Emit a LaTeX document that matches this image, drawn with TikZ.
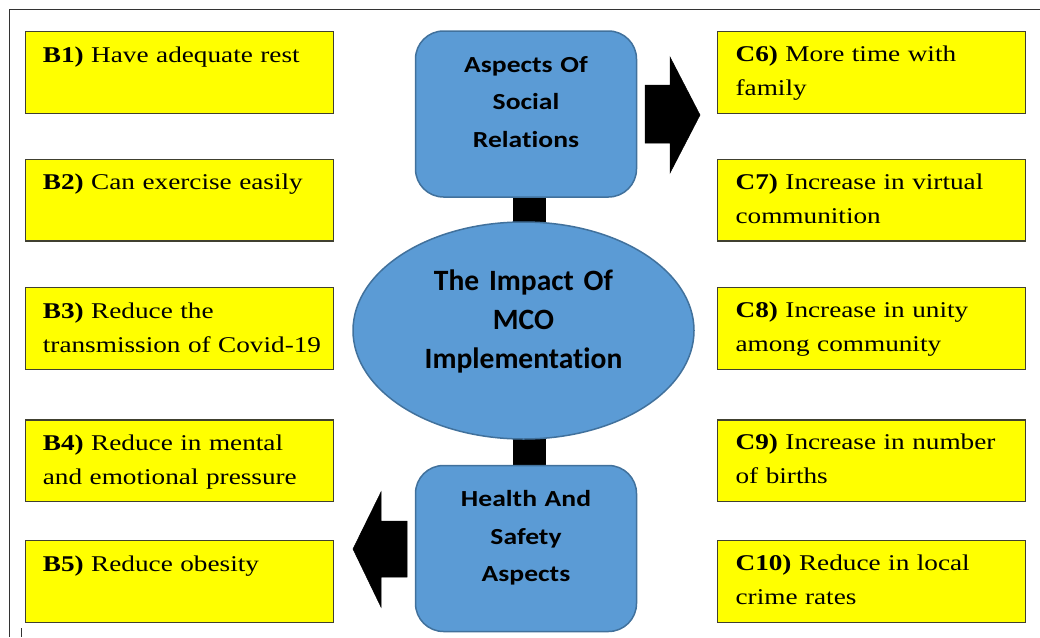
\documentclass[tikz,border=0pt]{standalone}
\usepackage{fontspec}
\usetikzlibrary{shapes.geometric,backgrounds}
\newfontfamily\yfont{Liberation Serif}[FakeStretch=1.21]
\newfontfamily\sfontA{Carlito}[FakeStretch=1.2,Ligatures=NoCommon]
\newfontfamily\efont{Carlito}[Ligatures=NoCommon]
\definecolor{ofblue}{HTML}{5B9BD5}
\definecolor{ofbord}{HTML}{41719C}
\definecolor{ybord}{HTML}{404030}
\definecolor{framec}{HTML}{333333}
\definecolor{yfill}{HTML}{FFFF00}
\begin{document}
\begin{tikzpicture}[x=1pt,y=-1pt,
  ybox/.style={draw=ybord, line width=1.2pt, fill=yfill, minimum width=308pt, minimum height=81.5pt, inner sep=0pt},
  ytxt/.style={font=\yfont\fontsize{22.5}{34}\selectfont, text width=300pt, align=left, anchor=base west, inner sep=0pt},
  bbox/.style={draw=ofbord, line width=1.5pt, fill=ofblue, rounded corners=28pt, minimum width=221pt, minimum height=166pt, inner sep=0pt},
  btxt/.style={font=\sfontA\bfseries\fontsize{23}{37.5}\selectfont, text width=220pt, align=center, anchor=base, inner sep=0pt},
  ellbox/.style={ellipse, draw=ofbord, line width=1.5pt, fill=ofblue, minimum width=341pt, minimum height=217pt, inner sep=0pt},
  etxt/.style={font=\efont\bfseries\fontsize{29.5}{39}\selectfont, text width=330pt, align=center, anchor=base, inner sep=0pt},
  conn/.style={line width=33pt, black},
  blockarrow/.style={fill=black, draw=black, line width=0.5pt}
]
\useasboundingbox (0,0) rectangle (1040,637);
% frame
\draw[framec, line width=1pt] (1040,9) -- (9,9) -- (9,637);
\draw[framec, line width=0.8pt] (21.7,628) -- (21.7,637);

% left column
\node[ybox] (b1) at (179.3,72.5) {};
\node[ybox] (b2) at (179.3,200.3) {};
\node[ybox] (b3) at (179.3,328.5) {};
\node[ybox] (b4) at (179.3,460.8) {};
\node[ybox] (b5) at (179.3,581.5) {};
\node[ytxt] (b1t) at ([xshift=18pt,yshift=-31pt]b1.north west) {\textbf{B1)} Have adequate rest};
\node[ytxt] (b2t) at ([xshift=18pt,yshift=-31pt]b2.north west) {\textbf{B2)} Can exercise easily};
\node[ytxt] (b3t) at ([xshift=18pt,yshift=-31pt]b3.north west) {\textbf{B3)} Reduce the\\transmission of Covid-19};
\node[ytxt] (b4t) at ([xshift=18pt,yshift=-31pt]b4.north west) {\textbf{B4)} Reduce in mental\\and emotional pressure};
\node[ytxt] (b5t) at ([xshift=18pt,yshift=-31pt]b5.north west) {\textbf{B5)} Reduce obesity};

% right column
\node[ybox] (c6) at (871.5,72.5) {};
\node[ybox] (c7) at (871.5,200.3) {};
\node[ybox] (c8) at (871.5,328.5) {};
\node[ybox] (c9) at (871.5,460.8) {};
\node[ybox] (c10) at (871.5,581.5) {};
\node[ytxt] (c6t) at ([xshift=18.5pt,yshift=-30.5pt]c6.north west) {\textbf{C6)} More time with\\family};
\node[ytxt] (c7t) at ([xshift=18.5pt,yshift=-30.5pt]c7.north west) {\textbf{C7)} Increase in virtual\\communition};
\node[ytxt] (c8t) at ([xshift=18.5pt,yshift=-30.5pt]c8.north west) {\textbf{C8)} Increase in unity\\among community};
\node[ytxt] (c9t) at ([xshift=18.5pt,yshift=-30.5pt]c9.north west) {\textbf{C9)} Increase in number\\of births};
\node[ytxt] (c10t) at ([xshift=18.5pt,yshift=-30.5pt]c10.north west) {\textbf{C10)} Reduce in local\\crime rates};

% centre shapes
\node[bbox] (sr) at (526,114) {};
\node[btxt] (srt) at ([yshift=-42pt]sr.north) {Aspects Of\\Social\\Relations};
\node[ellbox] (ell) at (523.5,330.5) {};
\node[etxt] (ellt) at ([yshift=-69pt]ell.north) {The Impact Of\\MCO\\Implementation};
\node[bbox] (hs) at (526,548.5) {};
\node[btxt] (hst) at ([yshift=-42pt]hs.north) {Health And\\Safety\\Aspects};

% connectors behind shapes
\begin{pgfonlayer}{background}
\draw[conn] ([xshift=3.5pt]sr.center) -- ([xshift=3.5pt]sr.center |- ell.center);
\draw[conn] ([xshift=3.5pt]hs.center |- ell.center) -- ([xshift=3.5pt]hs.center);
\end{pgfonlayer}

% block arrows
\fill[blockarrow] (645,85) -- (670,85) -- (670,57) -- (700,115) -- (670,173) -- (670,143) -- (645,143) -- cycle;
\fill[blockarrow] (407,521) -- (381,521) -- (381,492) -- (353,549) -- (381,607) -- (381,577) -- (407,577) -- cycle;
\end{tikzpicture}
\end{document}
